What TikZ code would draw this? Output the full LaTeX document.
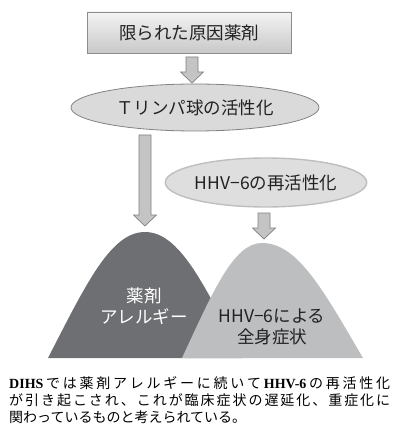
\documentclass[tikz,border=0pt]{standalone}
\usepackage{fontspec}
\setmainfont{Liberation Serif}
\newfontfamily\jp{Noto Sans CJK JP}
\usetikzlibrary{shapes.geometric,calc}
\definecolor{darkmound}{HTML}{6E6F73}
\definecolor{lightmound}{HTML}{BDBEC0}
\definecolor{arrfill}{HTML}{C4C4C4}
\definecolor{arrline}{HTML}{808080}
\definecolor{txtdark}{HTML}{222222}
\tikzset{
  lbl/.style={font=\jp\fontsize{17.5}{21}\selectfont, text=txtdark, inner sep=0pt},
  topbox/.style={lbl, draw={rgb,255:red,140;green,140;blue,140}, line width=0.8pt,
    top color={rgb,255:red,244;green,244;blue,244}, bottom color={rgb,255:red,200;green,200;blue,200},
    minimum width=204pt, minimum height=41pt},
  ellA/.style={lbl, ellipse, draw={rgb,255:red,130;green,130;blue,130}, line width=0.8pt,
    fill={rgb,255:red,218;green,218;blue,218}, minimum width=248pt, minimum height=47pt},
  ellB/.style={lbl, ellipse, draw={rgb,255:red,190;green,190;blue,190}, line width=1.4pt,
    fill={rgb,255:red,222;green,222;blue,222}, minimum width=162pt, minimum height=49pt},
  barrow/.style={fill=arrfill, draw=arrline, line width=0.7pt, line join=miter},
  capline/.style={anchor=west, inner sep=0pt, font=\jp\fontsize{14}{17}\selectfont, text=black},
  moundtxt/.style={align=center, inner sep=0pt, font=\jp\fontsize{17.5}{20.5}\selectfont}
}
\newcommand\blockarr[2]{\draw[barrow] let \p1=(#1), \p2=(#2) in
  (\x1-6pt,\y1) -- (\x1+6pt,\y1) -- (\x1+6pt,\y2+11pt) -- (\x1+11.5pt,\y2+11pt) --
  (\x1,\y2) -- (\x1-11.5pt,\y2+11pt) -- (\x1-6pt,\y2+11pt) -- cycle;}
\begin{document}
\begin{tikzpicture}[x=1pt,y=-1pt]
\useasboundingbox (0,0) rectangle (394,427);
% mounds
\fill[darkmound] (48,358) .. controls (86.8,282.4) and (111,232) .. (145,232)
  .. controls (179,232) and (203.2,282.4) .. (242,358) -- cycle;
\fill[lightmound] (182,358) .. controls (214,289) and (234,243) .. (262,243)
  .. controls (297.4,243) and (322.6,289) .. (363,358) -- cycle;
\node[moundtxt, text=white] (drug) at (144,306) {薬剤\\アレルギー};
\node[moundtxt, text=txtdark] (hhvsym) at (272,327) {HHV−6による\\全身症状};
% boxes
\node[topbox] (cause) at (189,32.5) {限られた原因薬剤};
\node[ellA] (tcell) at (195,107.5) {Ｔリンパ球の活性化};
\node[ellB] (hhv) at (266,182.5) {HHV−6の再活性化};
% arrows
\coordinate (a1s) at (192,57);  \coordinate (a1e) at (192,83);
\coordinate (a2s) at (145,135); \coordinate (a2e) at (145,226);
\coordinate (a3s) at (264,213); \coordinate (a3e) at (264,239);
\blockarr{a1s}{a1e}
\blockarr{a2s}{a2e}
\blockarr{a3s}{a3e}
% caption
\node[capline] (cap1) at (9,383) {\makebox[381pt][s]{{\rmfamily\bfseries DIHS}\hfil で\hfil は\hfil 薬\hfil 剤\hfil ア\hfil レ\hfil ル\hfil ギ\hfil ー\hfil に\hfil 続\hfil い\hfil て\hfil {\rmfamily\bfseries HHV-6}\hfil の\hfil 再\hfil 活\hfil 性\hfil 化}};
\node[capline] (cap2) at (9,400) {\makebox[381pt][s]{が\hfil 引\hfil き\hfil 起\hfil こ\hfil さ\hfil れ\hfil 、\hfil こ\hfil れ\hfil が\hfil 臨\hfil 床\hfil 症\hfil 状\hfil の\hfil 遅\hfil 延\hfil 化\hfil 、\hfil 重\hfil 症\hfil 化\hfil に}};
\node[capline] (cap3) at (9,417) {関わっているものと考えられている。};
\end{tikzpicture}
\end{document}
